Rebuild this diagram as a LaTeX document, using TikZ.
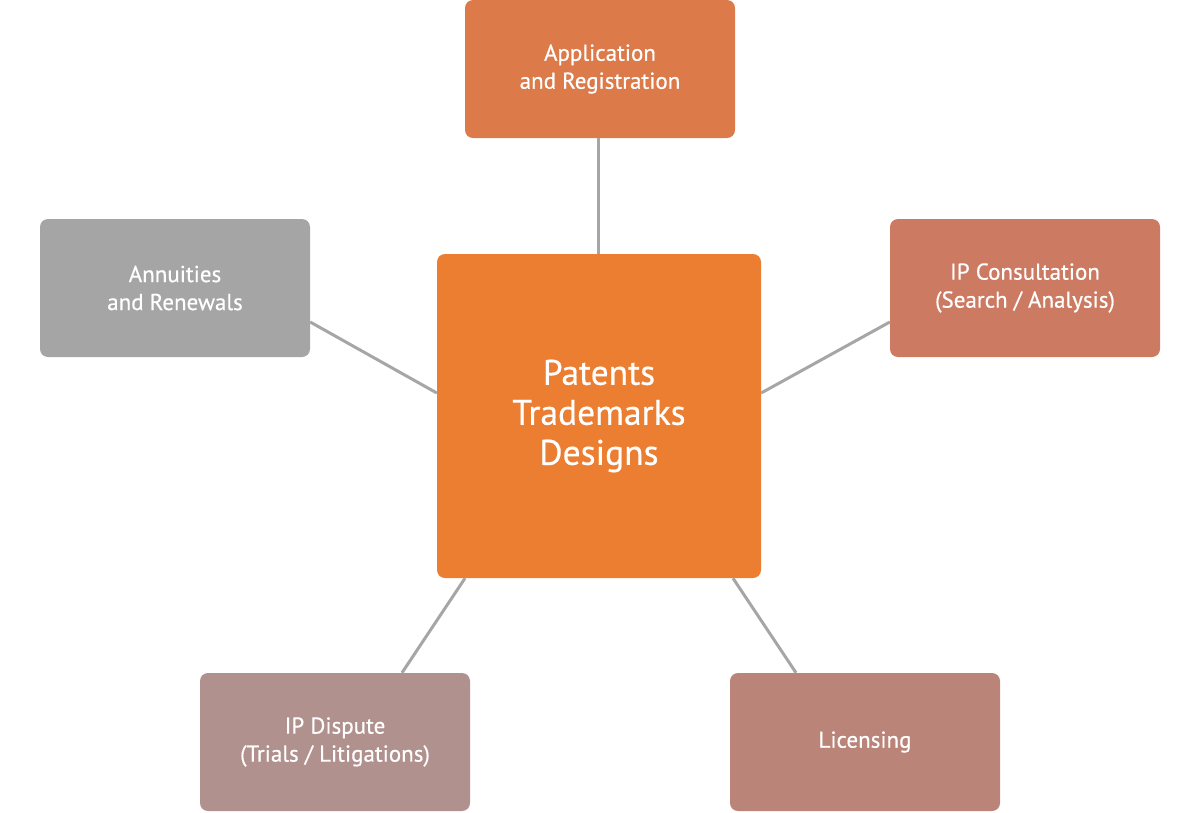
\documentclass[tikz,border=0pt]{standalone}
\usepackage{fontspec}
\setmainfont{PT Sans}[FakeBold=0.5]
\usetikzlibrary{calc}
\definecolor{cTop}{HTML}{DC7A4A}
\definecolor{cMain}{HTML}{EC7E32}
\definecolor{cAnn}{HTML}{A5A5A5}
\definecolor{cCons}{HTML}{CC7B62}
\definecolor{cDisp}{HTML}{B0918D}
\definecolor{cLic}{HTML}{BB8478}
\definecolor{cLine}{HTML}{A6A6A6}
\tikzset{
  sidebox/.style={rectangle, rounded corners=8pt, minimum width=270pt, minimum height=138pt,
    inner sep=0pt, text=white, align=center, font=\fontsize{23}{28}\selectfont},
  mainbox/.style={rectangle, rounded corners=8pt, minimum width=324pt, minimum height=324pt,
    inner sep=0pt, text=white, align=center, fill=cMain, font=\fontsize{35.5}{40}\selectfont},
  link/.style={draw=cLine, line width=3pt}
}
\begin{document}
\begin{tikzpicture}[x=1pt,y=-1pt]
\useasboundingbox (0,0) rectangle (1200,812);
\node[mainbox] (main) at (599,416) {Patents\\Trademarks\\Designs};
\node[sidebox, fill=cTop] (app) at (600,69) {Application\\and Registration};
\node[sidebox, fill=cAnn] (ann) at (175,288) {Annuities\\and Renewals};
\node[sidebox, fill=cCons] (cons) at (1025,288) {IP Consultation\\(Search / Analysis)};
\node[sidebox, fill=cDisp] (disp) at (335,742) {IP Dispute\\(Trials / Litigations)};
\node[sidebox, fill=cLic] (lic) at (865,742) {Licensing};
\draw[link] (app.south -| 598,0) -- (main.north -| 598,0);
\draw[link] ($(ann.east)+(0,34)$) -- ($(main.west)+(0,-23)$);
\draw[link] ($(cons.west)+(0,34)$) -- ($(main.east)+(0,-23)$);
\draw[link] ($(main.south)+(-134,0)$) -- ($(disp.north)+(67,0)$);
\draw[link] ($(main.south)+(134,0)$) -- ($(lic.north)+(-69,0)$);
\end{tikzpicture}
\end{document}
